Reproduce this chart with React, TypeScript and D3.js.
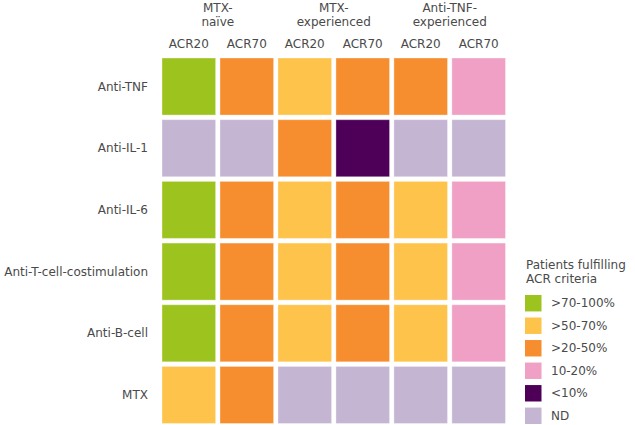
import * as d3 from 'd3';

const rows = ['Anti-TNF', 'Anti-IL-1', 'Anti-IL-6', 'Anti-T-cell-costimulation', 'Anti-B-cell', 'MTX'];
const cols = ['c0', 'c1', 'c2', 'c3', 'c4', 'c5'];
const colLabels = ['ACR20', 'ACR70', 'ACR20', 'ACR70', 'ACR20', 'ACR70'];
const groups = [['MTX-', 'naïve'], ['MTX-', 'experienced'], ['Anti-TNF-', 'experienced']];

const categories = ['>70-100%', '>50-70%', '>20-50%', '10-20%', '<10%', 'ND'];
const colours = ['#9dc41e', '#fec34a', '#f68e2f', '#efa0c4', '#4e0059', '#c4b5d3'];

// category index per cell, row by row
const values = [
  [0, 2, 1, 2, 2, 3],
  [5, 5, 2, 4, 5, 5],
  [0, 2, 1, 2, 1, 3],
  [0, 2, 1, 2, 1, 3],
  [0, 2, 1, 2, 1, 3],
  [1, 2, 5, 5, 5, 5],
];

const font = "'DejaVu Sans', sans-serif";
const textColour = '#4a4a4a';

export default function App() {
  const width = 635;
  const height = 425;

  const x = d3.scaleBand().domain(cols).range([162, 505.5]).paddingInner(0.075);
  const y = d3.scaleBand().domain(rows).range([58, 423.5]).paddingInner(0.075);
  const colour = d3.scaleOrdinal<number, string>().domain(d3.range(categories.length)).range(colours);

  const cells = values.flatMap((row, i) => row.map((v, j) => ({ r: rows[i], c: cols[j], v })));

  const legendY = d3.scaleBand().domain(categories).range([295, 424]).paddingInner(0.27);

  return (
    <div style={{ position: 'absolute', left: 0, top: 0 }}>
      <svg width={width} height={height} style={{ display: 'block', fontFamily: font }}>
        <rect width={width} height={height} fill="#fff" />
        {groups.map((g, i) => {
          const cx = (x(cols[i * 2])! + x(cols[i * 2 + 1])! + x.bandwidth()) / 2;
          return (
            <text key={i} x={cx} textAnchor="middle" fontSize={12} fill={textColour}>
              <tspan x={cx} y={12}>{g[0]}</tspan>
              <tspan x={cx} y={25.5}>{g[1]}</tspan>
            </text>
          );
        })}
        {cols.map((c, j) => (
          <text key={c} x={x(c)! + x.bandwidth() / 2} y={48} textAnchor="middle" fontSize={12} fill={textColour}>
            {colLabels[j]}
          </text>
        ))}
        {rows.map(r => (
          <text key={r} x={148} y={y(r)! + y.bandwidth() / 2} dy="0.35em" textAnchor="end" fontSize={12} fill={textColour}>
            {r}
          </text>
        ))}
        {cells.map((d, i) => (
          <rect
            key={i}
            x={x(d.c)}
            y={y(d.r)}
            width={x.bandwidth()}
            height={y.bandwidth()}
            fill={colour(d.v)}
            stroke="#fff"
            strokeOpacity={0.35}
            strokeWidth={1}
          />
        ))}
        <text fontSize={12} fill={textColour}>
          <tspan x={526} y={269}>Patients fulfilling</tspan>
          <tspan x={526} y={283}>ACR criteria</tspan>
        </text>
        {categories.map((c, i) => (
          <g key={c}>
            <rect x={525} y={legendY(c)} width={16.5} height={legendY.bandwidth()} fill={colours[i]} />
            <text x={551} y={legendY(c)! + legendY.bandwidth() / 2} dy="0.35em" fontSize={12} fill={textColour}>
              {c}
            </text>
          </g>
        ))}
      </svg>
    </div>
  );
}
